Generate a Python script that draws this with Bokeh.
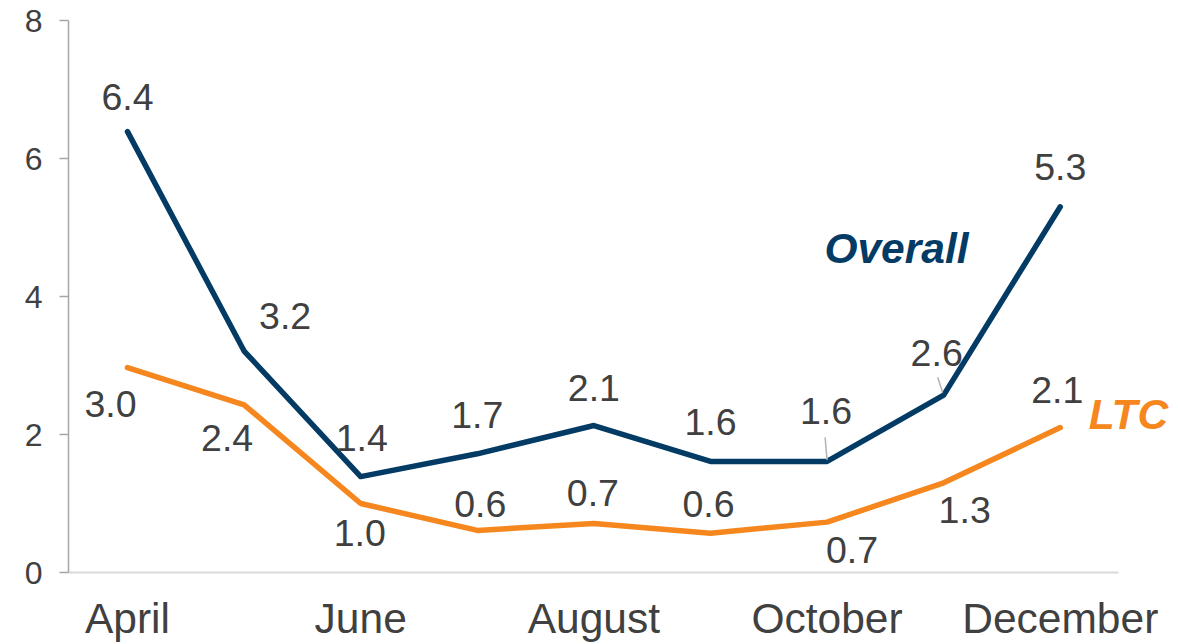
from bokeh.plotting import figure
from bokeh.models import Range1d, FixedTicker, ColumnDataSource, Label
from bokeh.core.properties import value
from bokeh.embed import file_html
from bokeh.resources import INLINE

# ---- data ----
months = ["April", "May", "June", "July", "August", "September", "October", "November", "December"]
overall = [6.39, 3.21, 1.39, 1.72, 2.13, 1.61, 1.61, 2.57, 5.3]
overall_labels = ["6.4", "3.2", "1.4", "1.7", "2.1", "1.6", "1.6", "2.6", "5.3"]
ltc = [2.97, 2.43, 1.0, 0.61, 0.71, 0.57, 0.73, 1.3, 2.1]
ltc_labels = ["3.0", "2.4", "1.0", "0.6", "0.7", "0.6", "0.7", "1.3", "2.1"]
y_ticks = [0, 2, 4, 6, 8]
x_tick_idx = [0, 2, 4, 6, 8]

# ---- label placement (screen px offsets, style only) ----
ov_dx = [0, 41, 1, 0, 0, 0, -1, -7, 0]
ov_dy = [-34.5, -35, -38.5, -38.5, -38, -39, -50, -42.5, -40]
ltc_dx = [-17, -17, -1, 3, -1, -2, 25, 21, -3]
ltc_dy = [36, 33, 29, -26, -31, -29, 28, 27, -38]

NAVY = "#033b65"
ORANGE = "#f6871e"
TXT = "#404040"
FONT = "Liberation Sans"

x = list(range(len(months)))

p = figure(width=1178, height=644, output_backend="svg", toolbar_location=None,
           x_range=Range1d(-0.506, 9.014), y_range=Range1d(0, 8),
           min_border_left=68, min_border_right=0, min_border_top=20, min_border_bottom=10)
p.outline_line_color = None
p.xgrid.visible = False
p.ygrid.visible = False
p.background_fill_color = "white"

# axes
p.yaxis.ticker = FixedTicker(ticks=y_ticks)
p.yaxis.axis_line_color = "#a6a6a6"
p.yaxis.axis_line_width = 1.5
p.yaxis.major_tick_line_color = "#a6a6a6"
p.yaxis.major_tick_line_width = 1.5
p.yaxis.major_tick_out = 9
p.yaxis.major_tick_in = 0
p.yaxis.minor_tick_line_color = None
p.yaxis.major_label_standoff = 17
p.yaxis.major_label_text_font = FONT
p.yaxis.major_label_text_font_size = "32px"
p.yaxis.major_label_text_color = TXT

p.xaxis.ticker = FixedTicker(ticks=x_tick_idx)
p.xaxis.bounds = (-0.506, 8.5)
p.xaxis.major_label_overrides = {i: months[i] for i in x_tick_idx}
p.xaxis.axis_line_color = "#d9d9d9"
p.xaxis.axis_line_width = 2
p.xaxis.major_tick_line_color = None
p.xaxis.minor_tick_line_color = None
p.xaxis.major_tick_out = 0
p.xaxis.major_tick_in = 0
p.xaxis.major_label_standoff = 22
p.xaxis.major_label_text_font = FONT
p.xaxis.major_label_text_font_size = "42.5px"
p.xaxis.major_label_text_color = TXT

# lines
p.line(x, overall, line_color=NAVY, line_width=5.5, line_cap="round", line_join="round")
p.line(x, ltc, line_color=ORANGE, line_width=5.5, line_cap="round", line_join="round")

# leader lines (October and November overall labels)
p.segment(x0=[6 - 0.017, 7 - 0.051], y0=[overall[6] + 0.35, overall[7] + 0.26],
          x1=[6, 7 - 0.009], y1=[overall[6] + 0.02, overall[7] + 0.04],
          line_color="#b3b3b3", line_width=1.5)

# data labels
src_o = ColumnDataSource(dict(x=x, y=overall, t=overall_labels, dx=ov_dx, dy=ov_dy))
p.text(x="x", y="y", text="t", x_offset="dx", y_offset="dy", source=src_o,
       text_font=value(FONT), text_font_size="37.5px", text_color=TXT,
       text_align="center", text_baseline="middle")
src_l = ColumnDataSource(dict(x=x, y=ltc, t=ltc_labels, dx=ltc_dx, dy=ltc_dy))
p.text(x="x", y="y", text="t", x_offset="dx", y_offset="dy", source=src_l,
       text_font=value(FONT), text_font_size="37.5px", text_color=TXT,
       text_align="center", text_baseline="middle")

# series names
p.add_layout(Label(x=6.595, y=4.696, text="Overall", text_font=FONT, text_font_size="42.5px",
                   text_font_style="bold italic", text_color=NAVY,
                   text_align="center", text_baseline="middle"))
p.add_layout(Label(x=8.585, y=2.29, text="LTC", text_font=FONT, text_font_size="42.5px",
                   text_font_style="bold italic", text_color=ORANGE,
                   text_align="center", text_baseline="middle"))

open("out.html", "w").write(file_html(p, INLINE))
